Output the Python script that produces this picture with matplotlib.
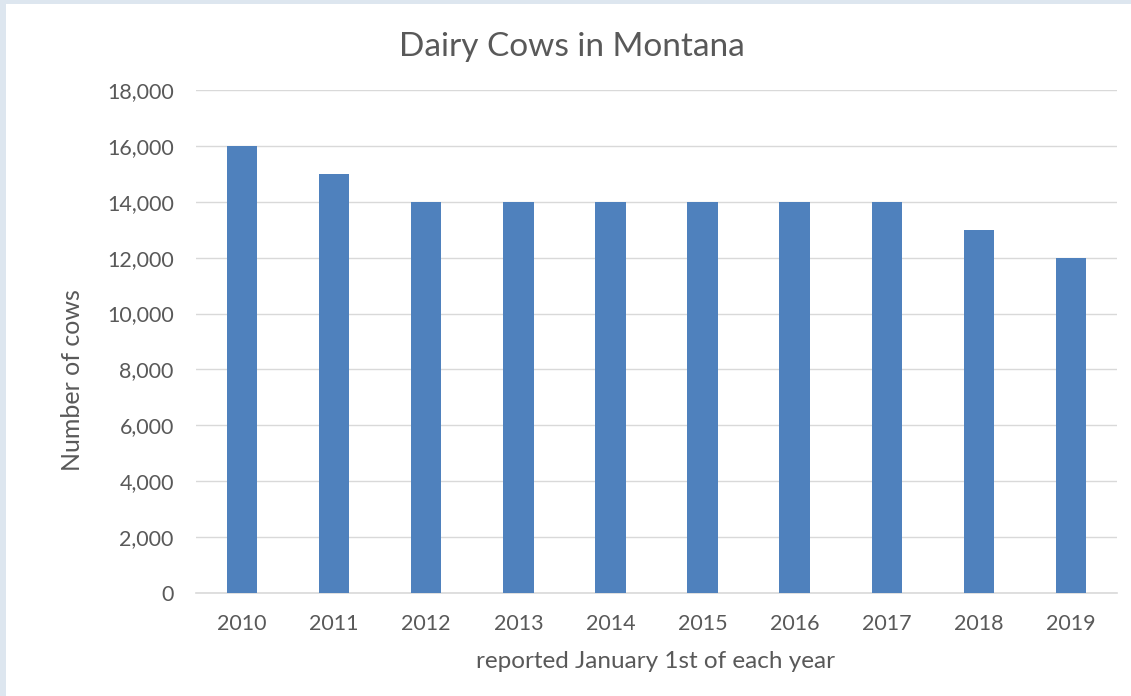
import matplotlib
matplotlib.use("Agg")
import matplotlib.pyplot as plt
from matplotlib.patches import Rectangle
from matplotlib.ticker import FuncFormatter

years = ["2010", "2011", "2012", "2013", "2014", "2015", "2016", "2017", "2018", "2019"]
cows = [16000, 15000, 14000, 14000, 14000, 14000, 14000, 14000, 13000, 12000]

plt.rcParams['font.family'] = ['Lato', 'DejaVu Sans']
grey = "#595959"

fig = plt.figure(figsize=(11.31, 6.96), dpi=100)
fig.patch.set_facecolor("#dde6ef")
# white chart area, leaving a thin frame on the left and top
fig.patches.append(Rectangle((6 / 1131, 0), 1, 1 - 4 / 696, transform=fig.transFigure,
                             facecolor="white", edgecolor="none", zorder=-1))

ax = fig.add_axes([196 / 1131, 1 - 593 / 696, 921 / 1131, 503 / 696])
ax.set_facecolor("none")
ax.bar(range(len(years)), cows, width=0.33, color="#4f81bd", zorder=3)

ax.set_xlim(-0.5, len(years) - 0.5)
ax.set_ylim(0, 18000)
ax.set_yticks(range(0, 18001, 2000))
ax.yaxis.set_major_formatter(FuncFormatter(lambda v, p: f"{int(v):,}"))
ax.set_xticks(range(len(years)))
ax.set_xticklabels(years)

ax.grid(axis="y", color="#d9d9d9", linewidth=1, zorder=0)
for s in ["top", "right", "left"]:
    ax.spines[s].set_visible(False)
ax.spines["bottom"].set_color("#d9d9d9")
ax.spines["bottom"].set_linewidth(1.2)
ax.tick_params(axis="both", length=0, labelsize=15.5, labelcolor=grey)
ax.tick_params(axis="y", pad=16)
ax.tick_params(axis="x", pad=15)

fig.text(572 / 1131, 1 - 47 / 696, "Dairy Cows in Montana", fontsize=24, color=grey,
         ha="center", va="center")
fig.text(73 / 1131, 1 - 380 / 696, "Number of cows", fontsize=18, color=grey,
         rotation=90, ha="center", va="center")
fig.text(656 / 1131, 1 - 661 / 696, "reported January 1st of each year", fontsize=17.5,
         color=grey, ha="center", va="center")

fig.savefig("out.png", dpi=100)
